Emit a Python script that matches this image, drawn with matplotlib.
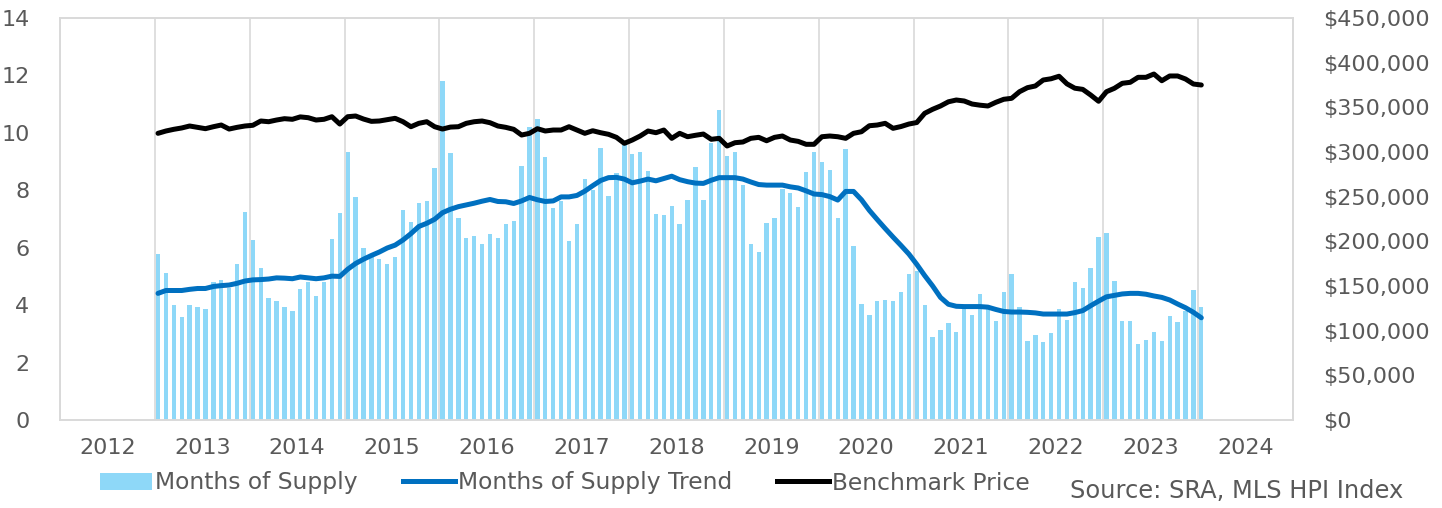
import numpy as np
import matplotlib
matplotlib.use("Agg")
import matplotlib.pyplot as plt
from matplotlib.patches import Patch
from matplotlib.lines import Line2D
from matplotlib.ticker import FuncFormatter

# monthly values, first bar sits just after the 2013 gridline
months_of_supply = [
    5.78, 5.13, 4.01, 3.58, 4.01, 3.93, 3.86, 4.81, 4.88, 4.60, 5.43, 7.25, 6.26, 5.30, 4.24, 4.15, 3.93, 3.80, 4.56,
    4.82, 4.31, 4.80, 6.31, 7.21, 9.34, 7.76, 5.98, 5.67, 5.59, 5.42, 5.69, 7.32, 6.90, 7.56, 7.61, 8.78, 11.81, 9.29,
    7.04, 6.34, 6.41, 6.14, 6.47, 6.33, 6.81, 6.93, 8.83, 10.22, 10.49, 9.16, 7.38, 7.63, 6.25, 6.83, 8.39, 8.00, 9.48,
    7.80, 8.60, 9.59, 9.25, 9.35, 8.68, 7.17, 7.13, 7.46, 6.84, 7.67, 8.82, 7.67, 9.64, 10.81, 9.21, 9.35, 8.20, 6.14,
    5.85, 6.85, 7.05, 8.05, 7.90, 7.41, 8.62, 9.35, 8.98, 8.71, 7.04, 9.43, 6.06, 4.04, 3.67, 4.13, 4.18, 4.13, 4.47,
    5.09, 5.19, 3.99, 2.88, 3.12, 3.37, 3.07, 3.86, 3.67, 4.39, 3.85, 3.45, 4.46, 5.09, 3.94, 2.75, 2.95, 2.72, 3.03,
    3.86, 3.50, 4.79, 4.60, 5.30, 6.38, 6.52, 4.84, 3.44, 3.44, 2.66, 2.79, 3.07, 2.75, 3.63, 3.40, 3.80, 4.52, 3.94,
]

supply_trend = [
    4.41, 4.51, 4.51, 4.51, 4.55, 4.58, 4.58, 4.65, 4.68, 4.70, 4.76, 4.84, 4.88, 4.89, 4.91, 4.95, 4.94, 4.92, 4.98,
    4.95, 4.92, 4.95, 5.01, 5.00, 5.25, 5.45, 5.60, 5.73, 5.85, 5.99, 6.09, 6.27, 6.49, 6.74, 6.85, 6.99, 7.22, 7.34,
    7.43, 7.49, 7.55, 7.62, 7.68, 7.61, 7.60, 7.54, 7.63, 7.75, 7.67, 7.61, 7.63, 7.77, 7.77, 7.82, 7.97, 8.16, 8.34,
    8.44, 8.45, 8.39, 8.26, 8.32, 8.39, 8.33, 8.41, 8.49, 8.37, 8.30, 8.25, 8.24, 8.35, 8.44, 8.44, 8.44, 8.39, 8.29,
    8.20, 8.18, 8.18, 8.18, 8.12, 8.08, 7.98, 7.87, 7.85, 7.78, 7.66, 7.96, 7.96, 7.67, 7.30, 6.98, 6.67, 6.37, 6.08,
    5.78, 5.42, 5.03, 4.67, 4.27, 4.03, 3.96, 3.95, 3.95, 3.95, 3.93, 3.85, 3.78, 3.76, 3.76, 3.75, 3.73, 3.69, 3.69,
    3.69, 3.69, 3.74, 3.81, 3.98, 4.14, 4.29, 4.34, 4.39, 4.41, 4.41, 4.38, 4.32, 4.27, 4.18, 4.04, 3.91, 3.75, 3.56,
]

benchmark_price = [
    320900, 323500, 325400, 326900, 329100, 327600, 326100, 328300, 330200, 325700, 327600, 329100, 329900, 334700,
    333900, 335800, 337300, 336600, 339300,
    338400, 335800, 336600, 339500, 331300, 339500, 340300, 336900, 334300, 334700, 336200, 337700, 333900, 328300,
    332100, 333900, 328300, 325700, 327900,
    328300, 332100, 333900, 334700, 332800, 329100, 327600, 325400, 319000, 320900, 326100, 323500, 324600, 324600,
    328300, 324600, 320900, 323800, 321600,
    319800, 316400, 309700, 313400, 317900, 323500, 321600, 324600, 315300, 320900, 317100, 318700, 320100, 314200,
    315300, 306700, 310400, 311200, 315300,
    316400, 312600, 316400, 317900, 313400, 311900, 308600, 308600, 317100, 317900, 317100, 315300, 320900, 322700,
    329400, 330200, 332100, 326500, 328500,
    331300, 333000, 343300, 347800, 351500, 356200, 358200, 357100, 353700, 352400, 351500, 355600, 359000, 360100,
    367500, 372000, 373900, 380600, 382000,
    384800, 376300, 371400, 370100, 363800, 356800, 367500, 371300, 376900, 378000, 383600, 383600, 387300, 379800,
    385100, 385100, 381700, 376100, 375000,
]

year_labels = [str(y) for y in range(2012, 2025)]

BAR_COLOR = "#8ED8F8"
TREND_COLOR = "#0070C0"
TEXT_COLOR = "#595959"
GRID_COLOR = "#D9D9D9"
FS = 16

fig = plt.figure(figsize=(14.42, 5.08), dpi=100)
ax = fig.add_axes([60 / 1442, 1 - 420 / 508, 1233 / 1442, 402 / 508])
ax2 = ax.twinx()

x = np.arange(len(months_of_supply)) + 12.4

ax.bar(x, months_of_supply, width=0.55, color=BAR_COLOR, zorder=2)
ax.plot(x, supply_trend, color=TREND_COLOR, lw=3.6, solid_capstyle="round", zorder=3)
ax2.plot(x, benchmark_price, color="black", lw=3.6, solid_capstyle="round", zorder=3)

ax.set_xlim(0, 156)
ax.set_ylim(0, 14)
ax2.set_ylim(0, 450000)

# year boundaries as gridlines, labels in the middle of each year
ax.set_xticks(np.arange(0, 157, 12))
ax.set_xticklabels([])
ax.set_xticks(np.arange(6, 156, 12), minor=True)
ax.set_xticklabels(year_labels, minor=True)
ax.grid(axis="x", which="major", color=GRID_COLOR, lw=1.2, zorder=0)
ax.set_axisbelow(True)

ax.set_yticks(np.arange(0, 15, 2))
ax2.set_yticks(np.arange(0, 450001, 50000))
ax2.yaxis.set_major_formatter(FuncFormatter(lambda v, p: f"${v:,.0f}"))

ax.tick_params(axis="x", which="both", length=0, labelsize=FS, colors=TEXT_COLOR, pad=13)
ax.tick_params(axis="y", length=0, labelsize=FS, colors=TEXT_COLOR, pad=22)
ax2.tick_params(axis="y", length=0, labelsize=FS, colors=TEXT_COLOR, pad=22)

for a in (ax, ax2):
    for s in a.spines.values():
        s.set_color(GRID_COLOR)
        s.set_linewidth(1.2)

handles = [
    Patch(facecolor=BAR_COLOR, edgecolor="none"),
    Line2D([], [], color=TREND_COLOR, lw=3.6),
    Line2D([], [], color="black", lw=3.6),
]
labels = ["Months of Supply", "Months of Supply Trend", "Benchmark Price"]
fig.legend(handles, labels, loc="center left", bbox_to_anchor=(100 / 1442, 1 - 483 / 508),
           ncol=3, frameon=False, fontsize=16.8, handlelength=2.23, handletextpad=0.13,
           columnspacing=1.93, borderpad=0, borderaxespad=0, labelcolor=TEXT_COLOR)

fig.text(1403 / 1442, 1 - 491 / 508, "Source: SRA, MLS HPI Index", ha="right", va="center",
         fontsize=17.4, color=TEXT_COLOR)

fig.savefig("out.png", dpi=100)
